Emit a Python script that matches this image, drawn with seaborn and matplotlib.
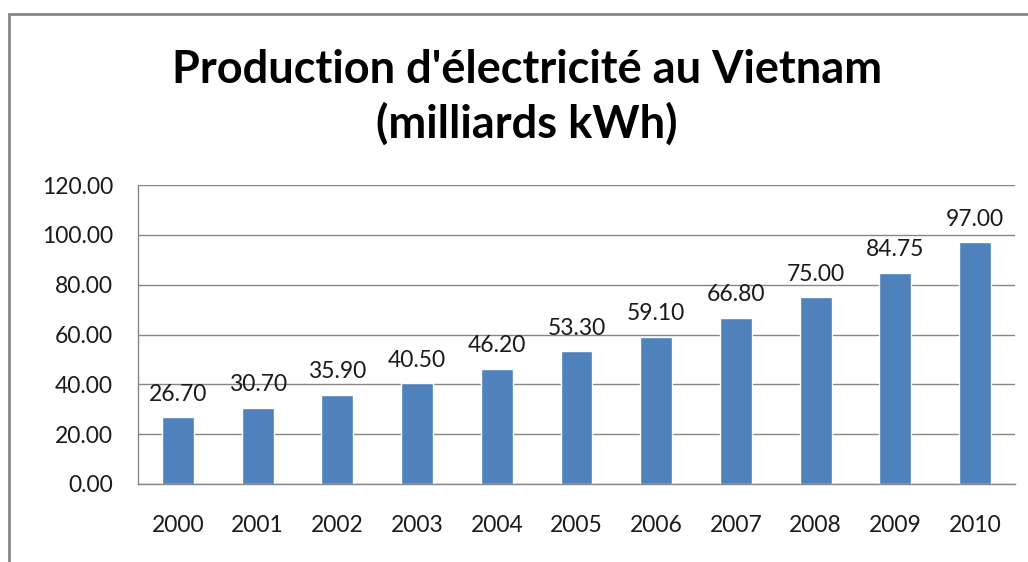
import numpy as np
import pandas as pd
import matplotlib
matplotlib.use("Agg")
import matplotlib.pyplot as plt
import seaborn as sns
from matplotlib.patches import Rectangle

# données
annees = ["2000", "2001", "2002", "2003", "2004", "2005",
          "2006", "2007", "2008", "2009", "2010"]
production = [26.70, 30.70, 35.90, 40.50, 46.20, 53.30,
              59.10, 66.80, 75.00, 84.75, 97.00]
y_ticks = [0, 20, 40, 60, 80, 100, 120]

df = pd.DataFrame({"annee": annees, "prod": production})

sns.set_theme(style="white")
plt.rcParams['font.family'] = ['Lato', 'DejaVu Sans']

fig = plt.figure(figsize=(10.28, 5.62), dpi=100)
ax = fig.add_axes([138/1028, 1 - 484/562, (1015 - 138)/1028, (484 - 185)/562])

sns.barplot(data=df, x="annee", y="prod", color="#4F81BD", saturation=1,
            width=0.40, ax=ax)

ax.set_ylim(0, 120)
ax.set_xlim(-0.5, len(annees) - 0.5)
ax.set_yticks(y_ticks)
ax.set_yticklabels([f"{v:.2f}" for v in y_ticks], fontsize=16.5, color="#1a1a1a")
ax.set_xticks(range(len(annees)))
ax.set_xticklabels(annees, fontsize=16.5, color="#1a1a1a")
ax.set_xticks(np.arange(-0.5, len(annees), 1), minor=True)
ax.tick_params(axis="x", which="major", length=0, pad=22)
ax.tick_params(axis="x", which="minor", length=7, width=1, color="#868686", direction="out")
ax.tick_params(axis="y", length=7, width=1, color="#868686", direction="out", pad=11)
ax.set_xlabel("")
ax.set_ylabel("")

ax.yaxis.grid(True, color="#868686", linewidth=1)
ax.set_axisbelow(True)
for s in ["top", "right"]:
    ax.spines[s].set_visible(False)
for s in ["left", "bottom"]:
    ax.spines[s].set_color("#868686")
    ax.spines[s].set_linewidth(1)

for c in ax.containers:
    ax.bar_label(c, labels=[f"{v:.2f}" for v in production], padding=9,
                 fontsize=16.5, color="#1a1a1a")

fig.text(527/1028, 1 - 97/562, "Production d'électricité au Vietnam\n(milliards kWh)",
         ha="center", va="center", fontsize=32.5, fontweight="bold",
         color="#000000", linespacing=1.32)

# cadre du graphique
fig.patches.append(Rectangle((9/1028, -0.1), 1.2, 1 - 14/562 + 0.1,
                             transform=fig.transFigure, fill=False,
                             edgecolor="#868686", linewidth=2))

fig.savefig("out.png", dpi=100, facecolor="white")
